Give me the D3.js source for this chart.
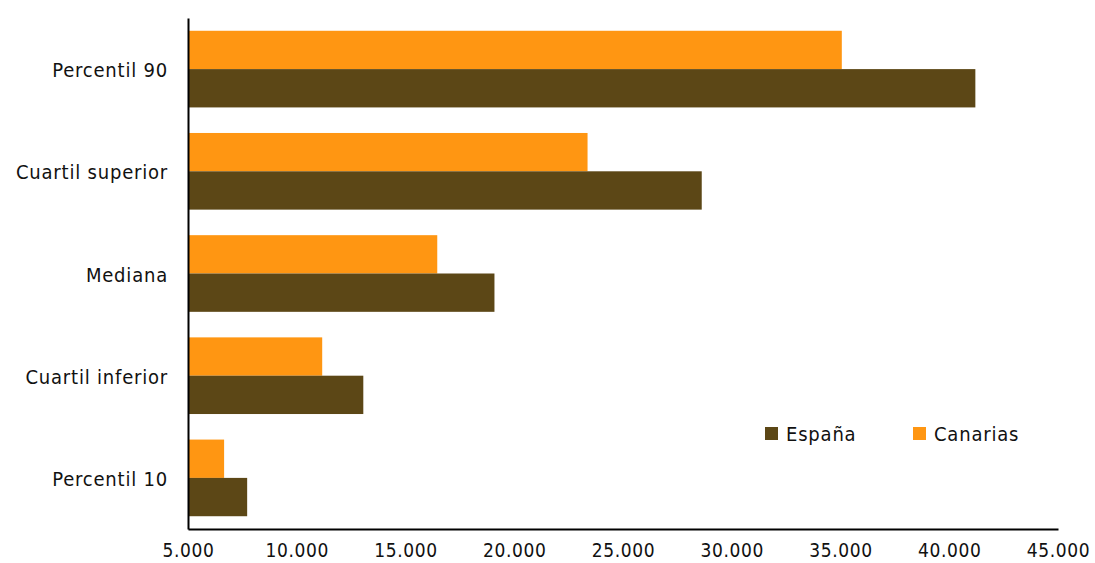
<!DOCTYPE html>
<html>
<head>
<meta charset="utf-8">
<script src="https://cdn.jsdelivr.net/npm/d3@7"></script>
<style>
  body { margin: 0; background: #fff; }
  svg { display: block; font-family: "DejaVu Sans Condensed", "DejaVu Sans", Verdana, sans-serif; }
</style>
</head>
<body>
<svg id="chart" width="1095" height="563"></svg>
<script>
const categories = ["Percentil 90", "Cuartil superior", "Mediana", "Cuartil inferior", "Percentil 10"];
const espana = [41200, 28620, 19090, 13060, 7720];
const canarias = [35060, 23370, 16460, 11170, 6660];
const seriesNames = ["España", "Canarias"];
const seriesColors = ["#5C4716", "#FF9612"];
const xTicks = [5000, 10000, 15000, 20000, 25000, 30000, 35000, 40000, 45000];

const FONT = '"DejaVu Sans Condensed", "DejaVu Sans", sans-serif';
const svg = d3.select("#chart");
const margin = { left: 188, right: 37, top: 18, bottom: 34 };
const W = 1095, H = 563;

const x = d3.scaleLinear().domain([5000, 45000]).range([margin.left, W - margin.right]);
const y = d3.scaleBand().domain(categories).range([margin.top, H - margin.bottom]).paddingInner(0.25).paddingOuter(0.125);
const sub = d3.scaleBand().domain(["Canarias", "España"]).range([0, y.bandwidth()]);

const fmt = v => d3.format(",")(v).replace(/,/g, ".");

const data = categories.map((c, i) => ({ cat: c, España: espana[i], Canarias: canarias[i] }));

const groups = svg.append("g").selectAll("g").data(data).join("g")
  .attr("transform", d => `translate(0,${y(d.cat)})`);

groups.selectAll("rect").data(d => [
    { key: "Canarias", v: d.Canarias },
    { key: "España", v: d.España }
  ]).join("rect")
  .attr("x", x(5000))
  .attr("y", d => sub(d.key))
  .attr("width", d => x(d.v) - x(5000))
  .attr("height", sub.bandwidth())
  .attr("fill", d => d.key === "España" ? seriesColors[0] : seriesColors[1]);

// X axis
const xAxis = svg.append("g").attr("transform", `translate(0,${H - margin.bottom})`)
  .call(d3.axisBottom(x).tickValues(xTicks).tickFormat(fmt).tickSize(0).tickPadding(15));
xAxis.select(".domain").attr("stroke", "#000").attr("stroke-width", 2);
xAxis.selectAll("text").attr("font-size", 19).attr("fill", "#111").attr("font-family", FONT)
  .attr("letter-spacing", "0.6px");

// Y axis
const yAxis = svg.append("g").attr("transform", `translate(${margin.left},0)`)
  .call(d3.axisLeft(y).tickSize(0).tickPadding(20));
yAxis.select(".domain").attr("stroke", "#000").attr("stroke-width", 2);
yAxis.selectAll("text").attr("font-size", 20).attr("fill", "#111").attr("font-family", FONT)
  .attr("letter-spacing", "0.8px").attr("dy", "0.4em");

// Legend
const legendX = [765, 913];
const legend = svg.append("g").selectAll("g").data(seriesNames).join("g")
  .attr("transform", (d, i) => `translate(${legendX[i]},427)`);
legend.append("rect").attr("width", 13).attr("height", 13).attr("fill", (d, i) => seriesColors[i]);
legend.append("text").attr("x", 21).attr("y", 14).attr("font-size", 20).attr("font-family", FONT)
  .attr("letter-spacing", "0.8px").attr("fill", "#111").text(d => d);
</script>
</body>
</html>
